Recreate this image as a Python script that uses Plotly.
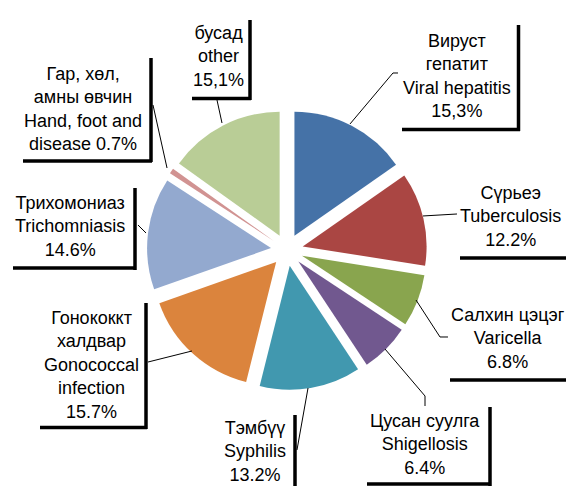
import plotly.graph_objects as go

W, H = 566, 486

# data, clockwise from 12 o'clock
mn_names = ['Вируст<br>гепатит', 'Сүрьеэ', 'Салхин цэцэг', 'Цусан суулга', 'Тэмбүү',
            'Гонококкт<br>халдвар', 'Трихомониаз', 'Гар, хөл,<br>амны өвчин', 'бусад']
en_names = ['Viral hepatitis', 'Tuberculosis', 'Varicella', 'Shigellosis', 'Syphilis',
            'Gonococcal<br>infection', 'Trichomniasis', 'Hand, foot and<br>disease', 'other']
shares = [15.3, 12.2, 6.8, 6.4, 13.2, 15.7, 14.6, 0.7, 15.1]
pct_text = ['15,3%', '12.2%', '6.8%', '6.4%', '13.2%', '15.7%', '14.6%', '0.7%', '15,1%']
colors = ['#4572A7', '#AA4643', '#89A54E', '#71588F', '#4198AF',
          '#DB843D', '#93A9CF', '#D19392', '#B9CD96']


def px(x, y):
    # pixel -> paper coords
    return x / W, 1 - y / H


fig = go.Figure(go.Pie(
    values=shares,
    labels=[e.replace('<br>', ' ') for e in en_names],
    sort=False,
    direction='clockwise',
    rotation=0,
    pull=0.13,
    marker=dict(colors=colors, line=dict(width=0)),
    textinfo='none',
    hoverinfo='label+percent',
    domain=dict(x=[147 / W, 427 / W], y=[1 - 390 / H, 1 - 110 / H]),
    showlegend=False,
))

# label placement (pixel centres) and box edges, picked by eye
label_pos = [(457, 76), (510, 216), (508, 338), (425, 444), (255, 451),
             (91, 365), (70, 227), (83, 109), (218, 57)]
box_right = [(518.5, 25, 131), None, None, (490, 407, 486), (295, 415, 486),
             (146, 303, 429), (135, 188, 270), (151, 58, 162), (250, 20, 100)]
box_bottom = [(129.5, 402, 520), (258, 460, 566), (380, 450, 566), (484, 367, 491), None,
              (427.5, 40, 147), (268, 13, 136), (161, 23, 152), (98.5, 192, 251)]
leaders = [[(398, 73), (393, 73), (350, 124)],
           [(457, 214), (423, 216)],
           [(448, 337), (440, 337), (416, 300)],
           [(425, 406), (425, 396), (385, 349)],
           [(297, 450), (308, 388)],
           [(148, 362), (192, 351)],
           [(138, 225), (146, 233)],
           [(153, 105), (167, 168)],
           [(217, 100), (222, 123)]]

shapes = []
annotations = []
for i in range(len(shares)):
    if i == 7:
        txt = mn_names[i] + '<br>' + en_names[i] + ' ' + pct_text[i]
    else:
        txt = mn_names[i] + '<br>' + en_names[i] + '<br>' + pct_text[i]
    x, y = px(*label_pos[i])
    annotations.append(dict(x=x, y=y, xref='paper', yref='paper', text=txt,
                            showarrow=False, xanchor='center', yanchor='middle',
                            align='center',
                            font=dict(family='Liberation Sans, Arial', size=18, color='black')))
    if box_right[i]:
        bx, y0, y1 = box_right[i]
        a = px(bx, y0)
        b = px(bx, y1)
        shapes.append(dict(type='line', xref='paper', yref='paper', x0=a[0], y0=a[1],
                           x1=b[0], y1=b[1], line=dict(color='black', width=3.5)))
    if box_bottom[i]:
        by, x0, x1 = box_bottom[i]
        a = px(x0, by)
        b = px(x1, by)
        shapes.append(dict(type='line', xref='paper', yref='paper', x0=a[0], y0=a[1],
                           x1=b[0], y1=b[1], line=dict(color='black', width=3.5)))
    pts = leaders[i]
    path = 'M ' + ' L '.join('%.4f,%.4f' % px(*p) for p in pts)
    shapes.append(dict(type='path', xref='paper', yref='paper', path=path,
                       line=dict(color='black', width=1)))

fig.update_layout(
    width=W, height=H,
    margin=dict(l=0, r=0, t=0, b=0),
    paper_bgcolor='white',
    plot_bgcolor='white',
    shapes=shapes,
    annotations=annotations,
)

# drop the browser's default 8px body margin so the figure sits at 0,0
fig.write_html('out.html', config={'displayModeBar': False},
               post_script="document.body.style.margin='0';")
